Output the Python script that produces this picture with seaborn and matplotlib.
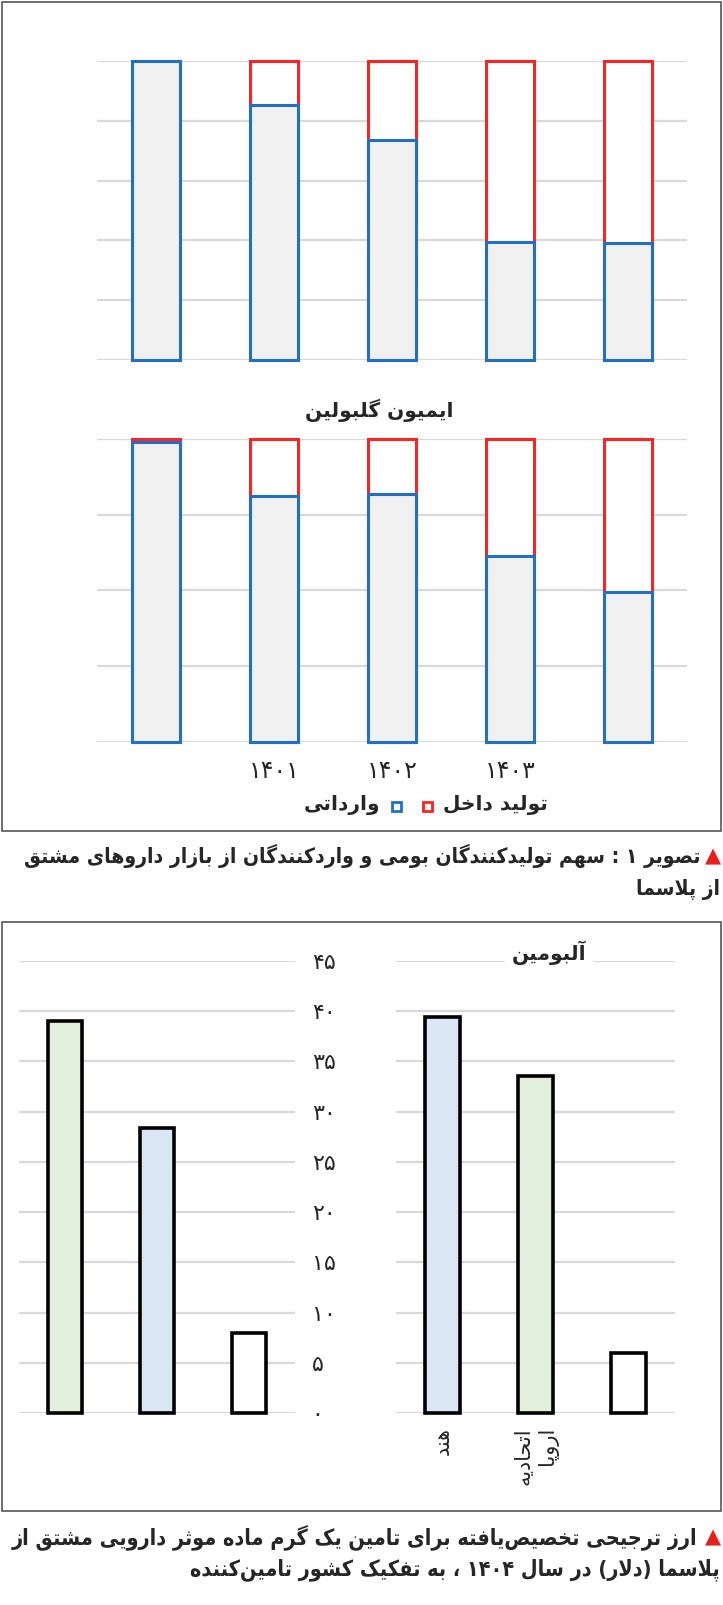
import numpy as np
import pandas as pd
import matplotlib
matplotlib.use("Agg")
import matplotlib.pyplot as plt
from matplotlib.patches import Rectangle
import seaborn as sns

# ---- data ----
years = ['', '۱۴۰۱', '۱۴۰۲', '۱۴۰۳', '']
# import share (blue part) for each year
import_share_top = [1.00, 0.852, 0.736, 0.394, 0.391]
import_share_igg = [0.99, 0.813, 0.817, 0.613, 0.495]
igg_title = 'ایمیون گلبولین'
legend_domestic = 'تولید داخل'
legend_import = 'وارداتی'

supplier_left = ['a', 'b', 'c']
price_left = [39.0, 28.4, 8.0]
colors_left = ['#e2efda', '#dae6f3', '#ffffff']

supplier_right = ['هند', 'اتحادیه\nاروپا', '']
price_right = [39.4, 33.6, 6.0]
colors_right = ['#dae6f3', '#e2efda', '#ffffff']
albumin_title = 'آلبومین'
price_ticks = [0, 5, 10, 15, 20, 25, 30, 35, 40, 45]

caption1 = ['تصویر ۱ : سهم تولیدکنندگان بومی و واردکنندگان از بازار داروهای مشتق',
            'از پلاسما']
caption2 = ['ارز ترجیحی تخصیص\u200cیافته برای تامین یک گرم ماده موثر دارویی مشتق از',
            'پلاسما (دلار) در سال ۱۴۰۴ ، به تفکیک کشور تامین\u200cکننده']

# ---- small persian shaper (matplotlib has no complex text layout) ----
FORMS = {
    'ا': ('\uFE8D', '\uFE8E', None, None), 'آ': ('\uFE81', '\uFE82', None, None),
    'ب': ('\uFE8F', '\uFE90', '\uFE91', '\uFE92'), 'پ': ('\uFB56', '\uFB57', '\uFB58', '\uFB59'),
    'ت': ('\uFE95', '\uFE96', '\uFE97', '\uFE98'), 'ث': ('\uFE99', '\uFE9A', '\uFE9B', '\uFE9C'),
    'ج': ('\uFE9D', '\uFE9E', '\uFE9F', '\uFEA0'), 'چ': ('\uFB7A', '\uFB7B', '\uFB7C', '\uFB7D'),
    'ح': ('\uFEA1', '\uFEA2', '\uFEA3', '\uFEA4'), 'خ': ('\uFEA5', '\uFEA6', '\uFEA7', '\uFEA8'),
    'د': ('\uFEA9', '\uFEAA', None, None), 'ذ': ('\uFEAB', '\uFEAC', None, None),
    'ر': ('\uFEAD', '\uFEAE', None, None), 'ز': ('\uFEAF', '\uFEB0', None, None),
    'ژ': ('\uFB8A', '\uFB8B', None, None),
    'س': ('\uFEB1', '\uFEB2', '\uFEB3', '\uFEB4'), 'ش': ('\uFEB5', '\uFEB6', '\uFEB7', '\uFEB8'),
    'ص': ('\uFEB9', '\uFEBA', '\uFEBB', '\uFEBC'), 'ض': ('\uFEBD', '\uFEBE', '\uFEBF', '\uFEC0'),
    'ط': ('\uFEC1', '\uFEC2', '\uFEC3', '\uFEC4'), 'ظ': ('\uFEC5', '\uFEC6', '\uFEC7', '\uFEC8'),
    'ع': ('\uFEC9', '\uFECA', '\uFECB', '\uFECC'), 'غ': ('\uFECD', '\uFECE', '\uFECF', '\uFED0'),
    'ف': ('\uFED1', '\uFED2', '\uFED3', '\uFED4'), 'ق': ('\uFED5', '\uFED6', '\uFED7', '\uFED8'),
    'ک': ('\uFB8E', '\uFB8F', '\uFB90', '\uFB91'), 'گ': ('\uFB92', '\uFB93', '\uFB94', '\uFB95'),
    'ل': ('\uFEDD', '\uFEDE', '\uFEDF', '\uFEE0'), 'م': ('\uFEE1', '\uFEE2', '\uFEE3', '\uFEE4'),
    'ن': ('\uFEE5', '\uFEE6', '\uFEE7', '\uFEE8'), 'ه': ('\uFEE9', '\uFEEA', '\uFEEB', '\uFEEC'),
    'و': ('\uFEED', '\uFEEE', None, None), 'ی': ('\uFBFC', '\uFBFD', '\uFBFE', '\uFBFF'),
    'ئ': ('\uFE89', '\uFE8A', '\uFE8B', '\uFE8C'),
}
MIRROR = {'(': ')', ')': '('}


def shape(word):
    out = []
    chars = list(word)
    i = 0
    while i < len(chars):
        c = chars[i]
        if c not in FORMS:
            if c != '\u200c':
                out.append(c)
            i += 1
            continue
        prev = chars[i - 1] if i > 0 else None
        join_prev = prev in FORMS and FORMS[prev][2] is not None
        if c == 'ل' and i + 1 < len(chars) and chars[i + 1] in ('ا', 'آ'):
            if chars[i + 1] == 'ا':
                out.append('\uFEFC' if join_prev else '\uFEFB')
            else:
                out.append('\uFEF6' if join_prev else '\uFEF5')
            i += 2
            continue
        nxt = chars[i + 1] if i + 1 < len(chars) else None
        join_next = FORMS[c][2] is not None and nxt in FORMS
        iso, fin, ini, med = FORMS[c]
        if join_prev and join_next:
            out.append(med)
        elif join_prev:
            out.append(fin)
        elif join_next:
            out.append(ini)
        else:
            out.append(iso)
        i += 1
    return ''.join(out)


def fa(text):
    lines = []
    for line in text.split('\n'):
        s = shape(line)
        # visual order: reverse, keep digit runs left-to-right
        tokens, cur, isdig = [], '', None
        for ch in s:
            d = ch.isdigit()
            if cur and d != isdig:
                tokens.append((cur, isdig))
                cur = ''
            cur += ch
            isdig = d
        if cur:
            tokens.append((cur, isdig))
        vis = ''
        for tok, d in reversed(tokens):
            vis += tok if d else ''.join(MIRROR.get(ch, ch) for ch in reversed(tok))
        lines.append(vis)
    return '\n'.join(lines)


def fa_num(n):
    return str(n).translate(str.maketrans('0123456789', '۰۱۲۳۴۵۶۷۸۹'))


sns.set_theme(style='white')
plt.rcParams['font.family'] = ['DejaVu Sans']

W, H = 723, 1605
fig = plt.figure(figsize=(W / 100, H / 100), dpi=100)
renderer = fig.canvas.get_renderer()


def fx(px):
    return px / W


def fy(py):
    return 1 - py / H


def axes_px(x0, y0, x1, y1):
    return fig.add_axes([fx(x0), fy(y1), fx(x1 - x0), (y1 - y0) / H])


def caption(x, y, lines, width_px, size=15, **kw):
    # scale the size so the first line spans the same width as in the picture
    t = fig.text(fx(x), fy(y), fa(lines[0]), fontsize=size, **kw)
    w = t.get_window_extent(renderer).width
    size = size * width_px / w
    t.set_fontsize(size)
    fig.text(fx(720), fy(y + 33), fa(lines[1]), fontsize=size, **kw)


grid_c = '#d9d9d9'
blue = '#2170c4'
red = '#ff2424'
grey = '#f0f0f0'


def share_chart(ax, shares, ticks, labels):
    df = pd.DataFrame({'year': range(len(shares)), 'import': shares})
    df['domestic'] = 1 - df['import']
    df['total'] = df['import'] + df['domestic']
    for t in ticks:
        ax.axhline(t, color=grid_c, lw=1.6, zorder=0)
    sns.barplot(data=df, x='year', y='total', color='white', edgecolor=red,
                linewidth=2.2, width=0.41, ax=ax, zorder=2, saturation=1)
    sns.barplot(data=df, x='year', y='import', color=grey, edgecolor=blue,
                linewidth=2.2, width=0.41, ax=ax, zorder=3, saturation=1)
    for p in ax.patches:
        p.set_clip_on(False)
    ax.set_ylim(0, 1)
    ax.set_xlim(-0.5, len(shares) - 0.5)
    ax.set_yticks([])
    ax.set_xlabel('')
    ax.set_ylabel('')
    ax.set_xticks(range(len(shares)))
    if labels:
        ax.set_xticklabels(labels, fontsize=17)
        ax.tick_params(axis='x', length=0, pad=12)
    else:
        ax.set_xticklabels([])
        ax.tick_params(axis='x', length=0)
    sns.despine(ax=ax, left=True, bottom=True)


# ---- top box ----
fig.add_artist(Rectangle((fx(2), fy(831)), fx(719), 829 / H, transform=fig.transFigure,
                         fill=False, edgecolor='#555555', lw=1.2))
ax1 = axes_px(97, 61, 687, 360)
share_chart(ax1, import_share_top, [0, 0.2, 0.4, 0.6, 0.8, 1.0], None)
fig.text(fx(379), fy(410), fa(igg_title), ha='center', va='center',
         fontsize=14.5, fontweight='bold')
ax2 = axes_px(97, 439, 687, 742)
share_chart(ax2, import_share_igg, [0, 0.25, 0.5, 0.75, 1.0], years)

# legend
fig.text(fx(548), fy(805), fa(legend_domestic), ha='right', va='center',
         fontsize=14.5, fontweight='bold')
fig.add_artist(Rectangle((fx(423), fy(811)), fx(9), 9 / H, transform=fig.transFigure,
                         fill=False, edgecolor=red, lw=2))
fig.add_artist(Rectangle((fx(392), fy(811)), fx(9), 9 / H, transform=fig.transFigure,
                         fill=False, edgecolor=blue, lw=2))
fig.text(fx(380), fy(805), fa(legend_import), ha='right', va='center',
         fontsize=14.5, fontweight='bold')

# caption 1
cap_kw = dict(ha='right', va='center', fontweight='bold', fontstretch='condensed')
fig.text(fx(721), fy(856), '▲', color='#e8201c', ha='right', va='center', fontsize=15)
caption(700, 856, caption1, 678, **cap_kw)

# ---- bottom box ----
fig.add_artist(Rectangle((fx(2), fy(1511)), fx(719), (1511 - 922) / H, transform=fig.transFigure,
                         fill=False, edgecolor='#555555', lw=1.2))


def price_chart(ax, cats, vals, cols):
    df = pd.DataFrame({'supplier': cats, 'price': vals})
    for t in price_ticks:
        ax.axhline(t, color=grid_c, lw=1.6, zorder=0)
    sns.barplot(data=df, x='supplier', y='price', hue='supplier', palette=cols,
                edgecolor='black', linewidth=2.6, width=0.37, ax=ax, zorder=3,
                saturation=1, legend=False)
    for p in ax.patches:
        p.set_clip_on(False)
    ax.set_ylim(0, 45)
    ax.set_xlim(-0.5, 2.5)
    ax.set_xlabel('')
    ax.set_ylabel('')
    sns.despine(ax=ax, left=True, bottom=True)


axl = axes_px(19, 961, 295, 1413)
price_chart(axl, supplier_left, price_left, colors_left)
axl.set_xticks([])
axl.yaxis.tick_right()
axl.set_yticks(price_ticks)
axl.set_yticklabels([fa_num(t) for t in price_ticks], fontsize=16)
axl.tick_params(axis='y', length=0, pad=12)
for lab in axl.get_yticklabels():
    lab.set_ha('left')

axr = axes_px(396, 961, 675, 1413)
price_chart(axr, supplier_right, price_right, colors_right)
axr.set_yticks([])
axr.set_xticks(range(3))
axr.set_xticklabels([fa(s) for s in supplier_right], rotation=90, fontsize=15,
                    va='top', ha='center', multialignment='right')
axr.tick_params(axis='x', length=0, pad=10)
axr.text(1.15, 45.8, fa(albumin_title), ha='center', va='center', fontsize=14.5,
         fontweight='bold', bbox=dict(facecolor='white', edgecolor='none', pad=5), zorder=5)

# caption 2
fig.text(fx(721), fy(1537), '▲', color='#e8201c', ha='right', va='center', fontsize=15)
caption(697, 1537, caption2, 690, **cap_kw)

fig.savefig('out.png', dpi=100, facecolor='white')
